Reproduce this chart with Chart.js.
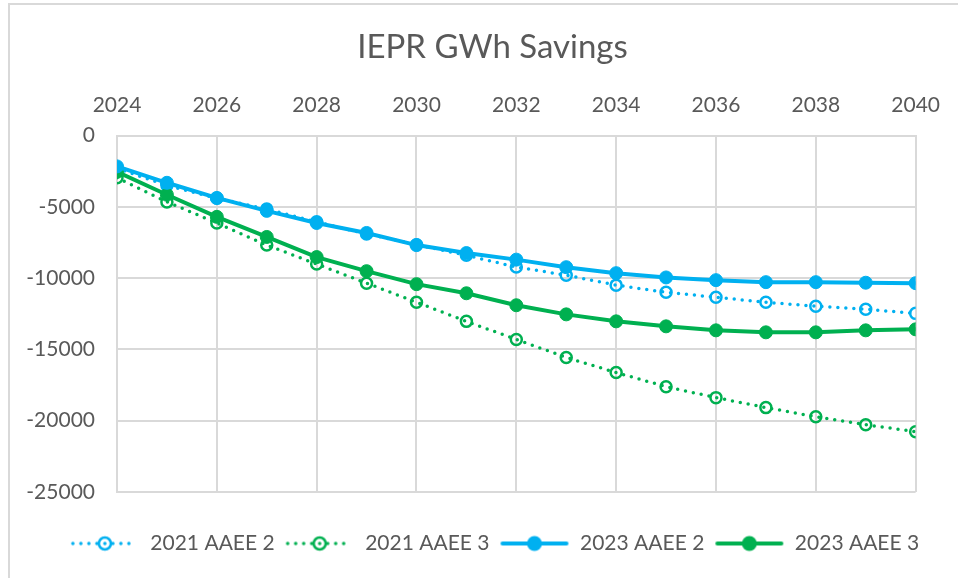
<!DOCTYPE html>
<html>
<head>
<meta charset="utf-8">
<script src="https://cdn.jsdelivr.net/npm/chart.js@4.4.1/dist/chart.umd.min.js"></script>
<style>
  html, body { margin: 0; padding: 0; background: #fff; }
  body { width: 958px; height: 578px; overflow: hidden; position: relative; }
  #frame { position: absolute; left: 8px; top: 3px; width: 990px; height: 600px; border: 2px solid #d9d9d9; box-sizing: border-box; }
  #wrap { position: absolute; left: 0; top: 0; width: 958px; height: 578px; }
</style>
</head>
<body>
<div id="frame"></div>
<div id="wrap"><canvas id="chart"></canvas></div>
<script>
const years = [2024, 2025, 2026, 2027, 2028, 2029, 2030, 2031, 2032, 2033, 2034, 2035, 2036, 2037, 2038, 2039, 2040];

const aaee2_2021 = [-2300, -3500, -4400, -5150, -6050, -6900, -7650, -8400, -9220, -9790, -10490, -10990, -11340, -11690, -11970, -12180, -12470];
const aaee3_2021 = [-2960, -4650, -6130, -7680, -9010, -10350, -11690, -13030, -14300, -15560, -16620, -17610, -18380, -19080, -19720, -20280, -20770];
const aaee2_2023 = [-2160, -3310, -4370, -5280, -6130, -6830, -7680, -8240, -8700, -9230, -9650, -9950, -10140, -10280, -10280, -10320, -10350];
const aaee3_2023 = [-2540, -4150, -5700, -7110, -8520, -9510, -10420, -11060, -11900, -12540, -13030, -13380, -13660, -13800, -13800, -13660, -13590];

const seriesNames = ['2021 AAEE 2', '2021 AAEE 3', '2023 AAEE 2', '2023 AAEE 3'];

const BLUE = '#00b0f0';
const GREEN = '#00b050';
const GREY_TEXT = '#595959';
const GRID = '#d9d9d9';
const FONT = 'Lato, "Open Sans", sans-serif';

const toPoints = (vals) => years.map((yr, i) => ({x: yr, y: vals[i]}));

// legend swatch: line + marker, like the spreadsheet legend
const makeSwatch = (color, dotted) => {
    const c = document.createElement('canvas');
    c.width = 70;
    c.height = 20;
    const g = c.getContext('2d');
    g.strokeStyle = color;
    g.fillStyle = color;
    g.lineCap = 'round';
    g.lineWidth = dotted ? 3.5 : 4;
    if (dotted) g.setLineDash([0, 8]);
    g.beginPath();
    g.moveTo(3, 10);
    g.lineTo(67, 10);
    g.stroke();
    g.setLineDash([]);
    g.beginPath();
    if (dotted) {
        g.lineWidth = 2.5;
        g.arc(35, 10, 6, 0, Math.PI * 2);
        g.stroke();
    } else {
        g.arc(35, 10, 7.5, 0, Math.PI * 2);
        g.fill();
    }
    return c;
};

const dottedSet = (label, vals, color) => ({
    label: label,
    data: toPoints(vals),
    borderColor: color,
    borderWidth: 3.5,
    borderDash: [0, 8],
    borderCapStyle: 'round',
    pointRadius: 5.5,
    pointBorderWidth: 2.5,
    pointBorderColor: color,
    pointBackgroundColor: 'rgba(0,0,0,0)',
    swatch: makeSwatch(color, true),
    order: 2
});

const solidSet = (label, vals, color) => ({
    label: label,
    data: toPoints(vals),
    borderColor: color,
    borderWidth: 4,
    pointRadius: 6.5,
    pointBorderWidth: 1,
    pointBorderColor: color,
    pointBackgroundColor: color,
    swatch: makeSwatch(color, false),
    order: 1
});

// move title and legend to where the reference has them
const blockShift = {
    id: 'blockShift',
    afterLayout(chart) {
        const lg = chart.legend;
        const dy = 31, dx = 36;
        lg.top += dy;
        lg.bottom += dy;
        lg.left += dx;
        lg.right += dx;
        const tb = chart.titleBlock;
        tb.left += 34;
        tb.right += 34;
    }
};

const config = {
    type: 'line',
    data: {
        datasets: [
            dottedSet(seriesNames[0], aaee2_2021, BLUE),
            dottedSet(seriesNames[1], aaee3_2021, GREEN),
            solidSet(seriesNames[2], aaee2_2023, BLUE),
            solidSet(seriesNames[3], aaee3_2023, GREEN)
        ]
    },
    options: {
        responsive: true,
        maintainAspectRatio: false,
        animation: false,
        events: [],
        layout: {
            padding: {top: 14, left: 0, right: 41, bottom: 45}
        },
        scales: {
            x: {
                type: 'linear',
                position: 'top',
                min: 2024,
                max: 2040,
                afterFit: (scale) => { scale.height = 65; },
                ticks: {
                    stepSize: 2,
                    padding: 18,
                    color: GREY_TEXT,
                    font: {family: FONT, size: 21},
                    callback: (v) => String(v)
                },
                grid: {color: GRID, lineWidth: 2, drawTicks: false},
                border: {color: GRID, width: 2}
            },
            y: {
                min: -25000,
                max: 0,
                afterFit: (scale) => { scale.width = 117; },
                ticks: {
                    stepSize: 5000,
                    padding: 22,
                    color: GREY_TEXT,
                    font: {family: FONT, size: 21},
                    callback: (v) => String(v)
                },
                grid: {color: GRID, lineWidth: 2, drawTicks: false},
                border: {color: GRID, width: 2}
            }
        },
        plugins: {
            title: {
                display: true,
                text: 'IEPR GWh Savings',
                color: GREY_TEXT,
                font: {family: FONT, size: 33, weight: 'normal'},
                padding: {top: 14, bottom: 3}
            },
            legend: {
                position: 'bottom',
                labels: {
                    usePointStyle: true,
                    pointStyleWidth: 70,
                    padding: 10,
                    color: GREY_TEXT,
                    font: {family: FONT, size: 21},
                    generateLabels: (chart) => chart.data.datasets.map((ds, i) => ({
                        text: ds.label,
                        pointStyle: ds.swatch,
                        fontColor: GREY_TEXT,
                        strokeStyle: ds.borderColor,
                        fillStyle: ds.borderColor,
                        lineWidth: 0,
                        hidden: false,
                        datasetIndex: i
                    }))
                }
            },
            tooltip: {enabled: false}
        }
    },
    plugins: [blockShift]
};

window.onload = () => {
    const ctx = document.getElementById('chart').getContext('2d');
    window.myChart = new Chart(ctx, config);
};
</script>
</body>
</html>
